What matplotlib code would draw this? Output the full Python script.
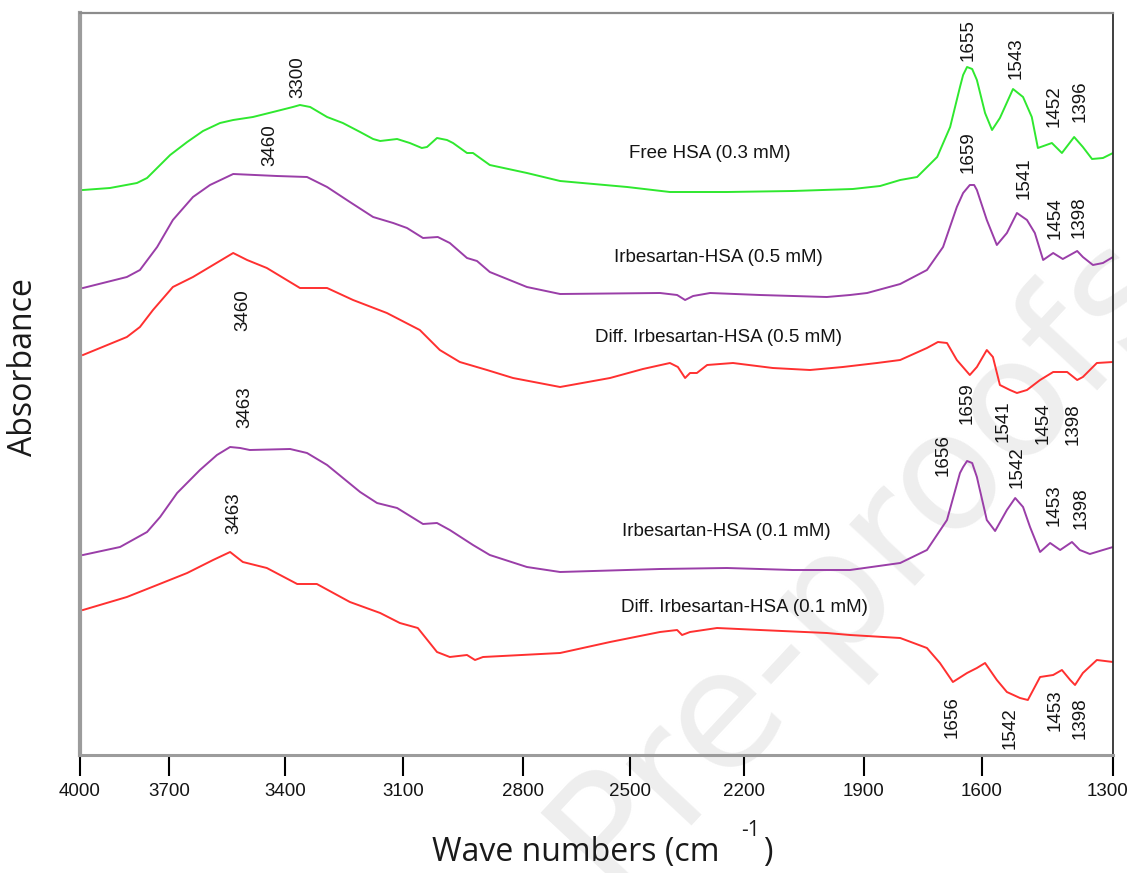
import numpy as np
import matplotlib
matplotlib.use("Agg")
import matplotlib.pyplot as plt
from matplotlib.transforms import ScaledTranslation

# wavenumber axis of the original is not evenly spaced, keep its tick positions
tick_wn = np.array([4000, 3700, 3400, 3100, 2800, 2500, 2200, 1900, 1600, 1300])
tick_pos = np.array([0, 89, 205, 323, 443, 550, 664, 784, 902, 1033])

# Free HSA (0.3 mM)
free_wn = [3990, 3899, 3808, 3774, 3697, 3653, 3612, 3568, 3534, 3483, 3431, 3380, 3362, 3336,
           3293, 3253, 3209, 3176, 3158, 3115, 3083, 3053, 3040, 3015, 2990, 2975, 2940, 2925,
           2883, 2789, 2696, 2508, 2395, 2245, 2078, 1928, 1859, 1808, 1765, 1714, 1681, 1656,
           1648, 1638, 1625, 1613, 1593, 1577, 1559, 1529, 1506, 1486, 1472, 1440, 1417, 1389,
           1369, 1348, 1323, 1300]
free_abs = [0.570, 0.572, 0.577, 0.582, 0.605, 0.618, 0.629, 0.637, 0.640, 0.643, 0.648, 0.653,
            0.655, 0.653, 0.643, 0.637, 0.628, 0.621, 0.619, 0.621, 0.617, 0.612, 0.613, 0.622,
            0.620, 0.617, 0.607, 0.607, 0.595, 0.587, 0.579, 0.573, 0.568, 0.568, 0.569, 0.571,
            0.574, 0.580, 0.583, 0.603, 0.633, 0.673, 0.685, 0.693, 0.691, 0.680, 0.647, 0.630,
            0.642, 0.671, 0.663, 0.643, 0.612, 0.617, 0.607, 0.623, 0.613, 0.601, 0.602, 0.607]

# Irbesartan-HSA (0.5 mM)
irb5_wn = [3990, 3842, 3798, 3740, 3690, 3638, 3594, 3534, 3421, 3344, 3293, 3235, 3176, 3125,
           3090, 3050, 3013, 2983, 2940, 2915, 2883, 2789, 2696, 2421, 2376, 2355, 2334, 2289,
           2160, 1993, 1935, 1892, 1808, 1740, 1699, 1664, 1648, 1631, 1620, 1613, 1589, 1566,
           1543, 1520, 1497, 1479, 1460, 1437, 1415, 1382, 1369, 1346, 1323, 1300]
irb5_abs = [0.472, 0.483, 0.490, 0.513, 0.540, 0.563, 0.575, 0.586, 0.584, 0.583, 0.573, 0.558,
            0.543, 0.537, 0.532, 0.522, 0.523, 0.517, 0.502, 0.499, 0.488, 0.473, 0.466, 0.467,
            0.465, 0.460, 0.464, 0.467, 0.465, 0.463, 0.465, 0.467, 0.476, 0.490, 0.513, 0.553,
            0.567, 0.575, 0.575, 0.570, 0.540, 0.515, 0.527, 0.547, 0.540, 0.527, 0.500, 0.507,
            0.501, 0.509, 0.503, 0.495, 0.497, 0.503]

# Diff. Irbesartan-HSA (0.5 mM)
dif5_wn = [3990, 3842, 3798, 3754, 3690, 3638, 3586, 3534, 3498, 3447, 3362, 3293, 3227, 3141,
           3058, 3008, 2958, 2890, 2825, 2696, 2556, 2466, 2395, 2374, 2355, 2342, 2324, 2297,
           2229, 2128, 2035, 1953, 1867, 1808, 1740, 1712, 1689, 1664, 1631, 1613, 1589, 1575,
           1559, 1536, 1520, 1497, 1467, 1437, 1405, 1382, 1369, 1337, 1300]
dif5_abs = [0.405, 0.423, 0.433, 0.450, 0.473, 0.483, 0.495, 0.507, 0.500, 0.492, 0.472, 0.472,
            0.460, 0.447, 0.430, 0.410, 0.398, 0.390, 0.382, 0.373, 0.382, 0.391, 0.397, 0.393,
            0.382, 0.387, 0.387, 0.395, 0.397, 0.392, 0.390, 0.393, 0.397, 0.400, 0.412, 0.418,
            0.417, 0.400, 0.385, 0.393, 0.410, 0.403, 0.375, 0.370, 0.367, 0.370, 0.380, 0.388,
            0.388, 0.380, 0.383, 0.397, 0.398]

# Irbesartan-HSA (0.1 mM)
irb1_wn = [3990, 3865, 3774, 3730, 3679, 3620, 3576, 3542, 3516, 3491, 3387, 3344, 3293, 3209,
           3166, 3115, 3050, 3015, 2983, 2925, 2883, 2789, 2696, 2421, 2245, 2078, 1935, 1808,
           1740, 1689, 1656, 1648, 1638, 1625, 1613, 1589, 1570, 1543, 1524, 1506, 1490, 1467,
           1444, 1421, 1394, 1376, 1353, 1323, 1300]
irb1_abs = [0.205, 0.213, 0.228, 0.243, 0.267, 0.290, 0.305, 0.313, 0.312, 0.310, 0.311, 0.307,
            0.295, 0.268, 0.257, 0.252, 0.236, 0.237, 0.230, 0.215, 0.205, 0.193, 0.188, 0.191,
            0.192, 0.190, 0.190, 0.197, 0.210, 0.240, 0.287, 0.293, 0.299, 0.297, 0.283, 0.240,
            0.229, 0.250, 0.262, 0.253, 0.233, 0.208, 0.217, 0.210, 0.218, 0.210, 0.206, 0.210,
            0.213]

# Diff. Irbesartan-HSA (0.1 mM)
dif1_wn = [3990, 3842, 3740, 3653, 3586, 3542, 3509, 3447, 3369, 3319, 3235, 3158, 3108, 3063,
           3015, 2983, 2940, 2920, 2900, 2696, 2556, 2421, 2376, 2363, 2342, 2271, 2160, 1993,
           1935, 1808, 1740, 1707, 1674, 1638, 1613, 1593, 1566, 1543, 1513, 1495, 1467, 1437,
           1417, 1398, 1387, 1369, 1337, 1300]
dif1_abs = [0.150, 0.163, 0.175, 0.187, 0.200, 0.208, 0.198, 0.192, 0.176, 0.176, 0.158, 0.147,
            0.137, 0.132, 0.108, 0.103, 0.105, 0.100, 0.103, 0.107, 0.118, 0.128, 0.130, 0.125,
            0.128, 0.132, 0.130, 0.127, 0.125, 0.122, 0.112, 0.097, 0.078, 0.087, 0.092, 0.097,
            0.080, 0.068, 0.062, 0.060, 0.083, 0.085, 0.090, 0.080, 0.075, 0.087, 0.100, 0.098]

# curve names and peak labels
names = ["Free HSA (0.3 mM)", "Irbesartan-HSA (0.5 mM)", "Diff. Irbesartan-HSA (0.5 mM)",
         "Irbesartan-HSA (0.1 mM)", "Diff. Irbesartan-HSA (0.1 mM)"]
name_wn = [2289, 2268, 2268, 2247, 2198]
name_abs = [0.607, 0.502, 0.422, 0.228, 0.153]

peak_txt = ["3300", "3460", "3460", "3463", "3463",
            "1655", "1543", "1452", "1396",
            "1659", "1541", "1454", "1398",
            "1659", "1541", "1454", "1398",
            "1656", "1542", "1453", "1398",
            "1656", "1542", "1453", "1398"]
peak_wn = [3367, 3439, 3509, 3503, 3532,
           1636, 1522, 1435, 1376,
           1636, 1504, 1433, 1378,
           1638, 1552, 1460, 1392,
           1699, 1520, 1435, 1373,
           1676, 1536, 1433, 1376]
peak_abs = [0.683, 0.615, 0.450, 0.353, 0.247,
            0.720, 0.702, 0.654, 0.659,
            0.608, 0.582, 0.542, 0.543,
            0.357, 0.339, 0.337, 0.336,
            0.305, 0.293, 0.255, 0.252,
            0.043, 0.032, 0.050, 0.042]


def fwd(w):
    return -np.interp(-np.asarray(w, float), -tick_wn, tick_pos)


def inv(t):
    return -np.interp(-np.asarray(t, float), tick_pos, -tick_wn)


green = "#2fe82f"
purple = "#9a3ea8"
red = "#ff3030"
txt = "#141414"

fig = plt.figure(figsize=(11.27, 8.73), dpi=100)

# watermark behind everything
fig.text(0.765, 0.36, "Pre-proofs", rotation=47, fontsize=118, color="#eeeeee",
         family="DejaVu Sans", ha="center", va="center", zorder=-5)

ax = fig.add_axes([80 / 1127, 118 / 873, 1033 / 1127, 742 / 873])
ax.patch.set_alpha(0)
ax.set_xscale("function", functions=(fwd, inv))

ax.plot(free_wn, free_abs, color=green, lw=1.4)
ax.plot(irb5_wn, irb5_abs, color=purple, lw=1.4)
ax.plot(dif5_wn, dif5_abs, color=red, lw=1.4)
ax.plot(irb1_wn, irb1_abs, color=purple, lw=1.4)
ax.plot(dif1_wn, dif1_abs, color=red, lw=1.4)

for s, w, a in zip(names, name_wn, name_abs):
    ax.text(w, a, s, ha="center", va="center", fontsize=13.5, color=txt,
            family="Liberation Sans")

for s, w, a in zip(peak_txt, peak_wn, peak_abs):
    ax.text(w, a, s, ha="center", va="center", rotation=90, fontsize=13.5, color=txt,
            family="Liberation Sans", clip_on=False)

ax.set_xlim(4000, 1300)
ax.set_ylim(0.005, 0.747)
ax.set_xticks(tick_wn)
ax.set_xticklabels([str(v) for v in tick_wn], family="Liberation Sans", fontsize=13.5, color=txt)
ax.minorticks_off()
ax.set_yticks([])
ax.tick_params(axis="x", direction="out", length=15, width=1.5, color="black", pad=5)

# keep the last tick label inside the figure
last = ax.get_xticklabels()[-1]
last.set_transform(last.get_transform() + ScaledTranslation(-6 / 100, 0, fig.dpi_scale_trans))

ax.spines["left"].set_linewidth(3)
ax.spines["left"].set_color("#9c9c9c")
ax.spines["bottom"].set_linewidth(2.2)
ax.spines["bottom"].set_color("#9c9c9c")
ax.spines["top"].set_linewidth(1.6)
ax.spines["top"].set_color("#8c8c8c")
ax.spines["right"].set_linewidth(1.3)
ax.spines["right"].set_color("#303030")

# axis titles drawn like the original (superscript sits high above "cm")
fig.text(432 / 1127, 1 - 852 / 873, "Wave numbers (cm", ha="left", va="center",
         fontsize=23, family="Open Sans", color="#1a1a1a")
fig.text(768 / 1127, 1 - 852 / 873, ")", ha="center", va="center",
         fontsize=23, family="Open Sans", color="#1a1a1a")
fig.text(751 / 1127, 1 - 830 / 873, "-1", ha="center", va="center",
         fontsize=15, family="Open Sans", color="#1a1a1a")
fig.text(24 / 1127, 1 - 367 / 873, "Absorbance", rotation=90, ha="center", va="center",
         fontsize=23, family="Open Sans", color="#1a1a1a")

fig.savefig("out.png", dpi=100)
